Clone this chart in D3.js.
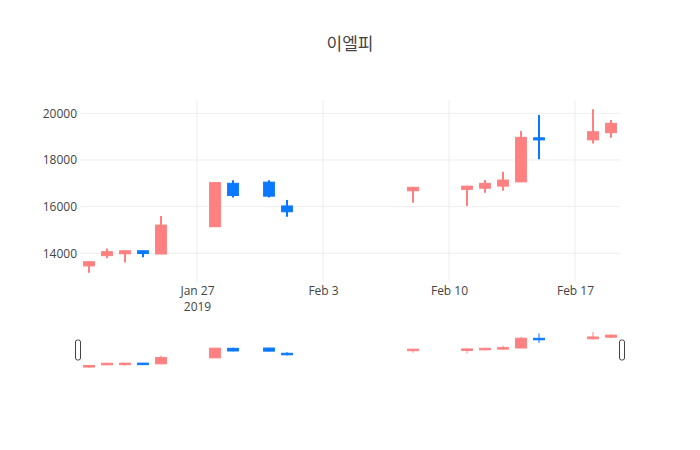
<!DOCTYPE html>
<html>
<head>
<meta charset="utf-8">
<script src="https://cdn.jsdelivr.net/npm/d3@7"></script>
<style>
  body { margin: 0; background: #fff; }
  svg text { font-family: "Open Sans", "Noto Sans CJK KR", sans-serif; fill: #444; }
</style>
</head>
<body>
<div class="chart"></div>
<script>
const dates = ['2019-01-21', '2019-01-22', '2019-01-23', '2019-01-24', '2019-01-25',
  '2019-01-28', '2019-01-29', '2019-01-31', '2019-02-01', '2019-02-08',
  '2019-02-11', '2019-02-12', '2019-02-13', '2019-02-14', '2019-02-15',
  '2019-02-18', '2019-02-19'];
const openVals = [13460, 13900, 13980, 14110, 13970, 15140, 17000, 17050, 16030, 16680,
  16740, 16790, 16880, 17060, 18950, 18860, 19170];
const highVals = [13640, 14210, 14110, 14110, 15600, 17030, 17130, 17130, 16280, 16830,
  16880, 17140, 17500, 19240, 19930, 20170, 19710];
const lowVals = [13170, 13790, 13610, 13830, 13970, 15140, 16390, 16390, 15570, 16170,
  16030, 16600, 16680, 17060, 18030, 18710, 18950];
const closeVals = [13640, 14070, 14110, 13990, 15210, 17030, 16480, 16450, 15780, 16830,
  16880, 17000, 17140, 18970, 18860, 19210, 19570];
const yTicks = [14000, 16000, 18000, 20000];
const xTicks = ['2019-01-27', '2019-02-03', '2019-02-10', '2019-02-17'];

const upColor = '#ff8080';
const downColor = '#0a78ff';

const parseDate = d3.timeParse('%Y-%m-%d');
const data = dates.map((d, i) => ({
  date: parseDate(d),
  open: openVals[i],
  high: highVals[i],
  low: lowVals[i],
  close: closeVals[i]
}));

const width = 700, height = 450;
const margin = { left: 80, right: 80, top: 100 };
const plotBottom = 282;
const slider = { top: 330, bottom: 370 };

const svg = d3.select('.chart')
  .append('svg')
  .attr('width', width)
  .attr('height', height);

svg.append('text')
  .attr('x', width / 2)
  .attr('y', 50)
  .attr('text-anchor', 'middle')
  .style('font-size', '17px')
  .text('이엘피');

const halfDay = 12 * 3600 * 1000;
const x = d3.scaleTime()
  .domain([new Date(data[0].date.getTime() - halfDay), new Date(data[data.length - 1].date.getTime() + halfDay)])
  .range([margin.left, width - margin.right]);

const yDomain = [12771, 20570];
const y = d3.scaleLinear().domain(yDomain).range([plotBottom, margin.top]);
const ySlider = d3.scaleLinear().domain(yDomain).range([slider.bottom, slider.top]);

// grid
svg.append('g')
  .selectAll('line')
  .data(yTicks)
  .join('line')
  .attr('x1', margin.left)
  .attr('x2', width - margin.right)
  .attr('y1', d => y(d))
  .attr('y2', d => y(d))
  .attr('stroke', '#eee');

svg.append('g')
  .selectAll('line')
  .data(xTicks.map(parseDate))
  .join('line')
  .attr('x1', d => x(d))
  .attr('x2', d => x(d))
  .attr('y1', margin.top)
  .attr('y2', plotBottom)
  .attr('stroke', '#eee');

// axes
const yAxis = svg.append('g')
  .attr('transform', `translate(${margin.left},0)`)
  .call(d3.axisLeft(y).tickValues(yTicks).tickFormat(d3.format('d')).tickSize(0).tickPadding(3));
yAxis.select('.domain').remove();
yAxis.selectAll('text').style('font-size', '12px').attr('fill', '#444');

const fmt = d3.timeFormat('%b %-d');
const xAxis = svg.append('g')
  .attr('transform', `translate(0,${plotBottom})`)
  .call(d3.axisBottom(x).tickValues(xTicks.map(parseDate)).tickFormat(fmt).tickSize(0).tickPadding(4));
xAxis.select('.domain').remove();
xAxis.selectAll('text').style('font-size', '12px').attr('fill', '#444');
xAxis.selectAll('.tick').filter((d, i) => i === 0)
  .select('text')
  .append('tspan')
  .attr('x', 0)
  .attr('dy', '1.35em')
  .text('2019');

function drawCandles(g, yScale, wick) {
  const boxW = x(new Date(data[0].date.getTime() + 0.3 * 2 * halfDay)) - x(data[0].date);
  const candle = g.selectAll('.candle')
    .data(data)
    .join('g')
    .attr('class', 'candle');

  candle.append('line')
    .attr('x1', d => x(d.date))
    .attr('x2', d => x(d.date))
    .attr('y1', d => yScale(d.high))
    .attr('y2', d => yScale(d.low))
    .attr('stroke', d => d.close >= d.open ? upColor : downColor)
    .attr('stroke-width', wick);

  candle.append('rect')
    .attr('x', d => x(d.date) - boxW)
    .attr('width', boxW * 2)
    .attr('y', d => yScale(Math.max(d.open, d.close)))
    .attr('height', d => Math.max(1.5, yScale(Math.min(d.open, d.close)) - yScale(Math.max(d.open, d.close))))
    .attr('fill', d => d.close >= d.open ? upColor : downColor)
    .attr('stroke', d => d.close >= d.open ? upColor : downColor)
    .attr('stroke-width', 1);
}

drawCandles(svg.append('g'), y, 2);

// range slider
const sliderG = svg.append('g');
drawCandles(sliderG, ySlider, 1);

const sliderMid = (slider.top + slider.bottom) / 2;
[margin.left - 2, width - margin.right + 2].forEach(hx => {
  svg.append('rect')
    .attr('x', hx - 2.5)
    .attr('y', sliderMid - 10)
    .attr('width', 5)
    .attr('height', 20)
    .attr('rx', 2)
    .attr('fill', '#fff')
    .attr('stroke', '#444')
    .attr('stroke-width', 1);
});
</script>
</body>
</html>
